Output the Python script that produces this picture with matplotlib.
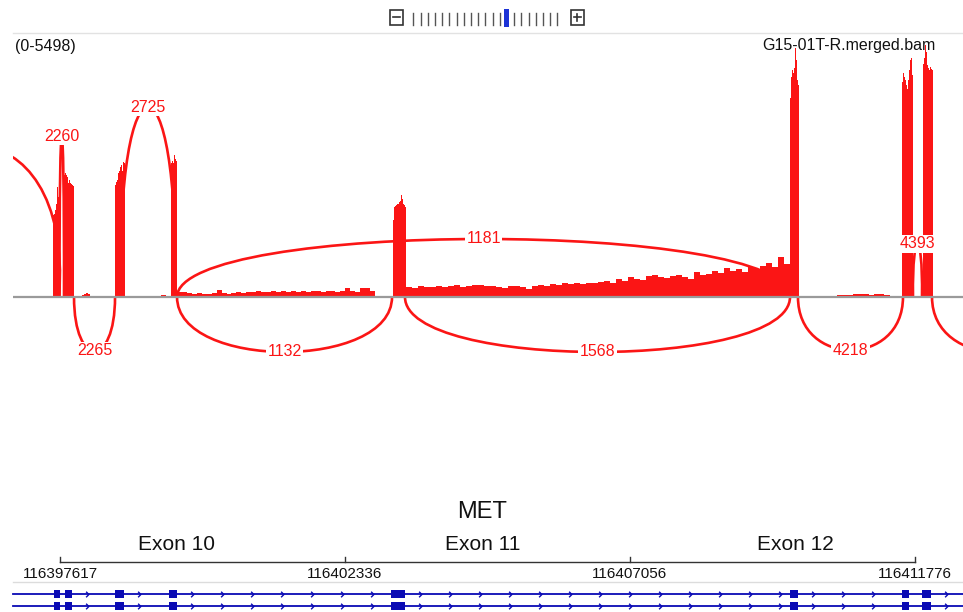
import numpy as np
import matplotlib
matplotlib.use("Agg")
import matplotlib.pyplot as plt
from matplotlib.path import Path
from matplotlib.patches import PathPatch, Rectangle

plt.rcParams['font.family'] = ['Liberation Sans', 'DejaVu Sans']

# ---- values ----
view_start, view_end = 116396623, 116412571
data_range = 5498
track_name = "G15-01T-R.merged.bam"
gene_name = "MET"
gene_pos = 116404605
ruler_ticks = [116397617, 116402336, 116407056, 116411776]
exon_labels = ["Exon 10", "Exon 11", "Exon 12"]
exon_label_pos = [116399538, 116404622, 116409789]

# coverage blocks (genomic start/end) and binned depth inside each block
cov_start = [116397501, 116397683, 116397849, 116398528, 116398727, 116399455, 116399555,
             116403132, 116403347, 116409706, 116410484, 116411561, 116411909]
cov_end = [116397609, 116397849, 116398147, 116398693, 116399439, 116399555, 116402834,
           116403347, 116409706, 116409855, 116411445, 116411743, 116412074]
cov_depth = [
    [1750, 1780, 1860, 1990, 2350, 2140],
    [2610, 2650, 2600, 2560, 2440, 2500, 2440, 2420, 2400, 2380],
    [20, 30, 25, 20, 40, 60, 90, 70, 20],
    [2400, 2460, 2500, 2650, 2700, 2780, 2820, 2700, 2890, 2860],
    [15, 30, 10, 0, 30, 25, 10, 20, 35, 30],
    [2860, 2900, 2870, 3040, 2950, 2900],
    [100, 110, 80, 70, 75, 60, 70, 90, 160, 90,
     60, 80, 100, 90, 110, 100, 120, 110, 100, 120,
     110, 130, 110, 120, 100, 120, 110, 130, 120, 110,
     130, 120, 110, 120, 200, 130, 110, 190, 200, 120],
    [1640, 1930, 1950, 1970, 2000, 1990, 2030, 2060, 2180, 2100, 1990, 1970, 1930],
    [220, 200, 230, 210, 220, 240, 210, 230, 250, 220,
     240, 260, 250, 230, 240, 210, 200, 230, 240, 220,
     180, 230, 250, 240, 270, 260, 290, 270, 300, 280,
     310, 290, 320, 340, 300, 380, 350, 420, 390, 360,
     440, 470, 430, 400, 450, 480, 420, 390, 530, 470,
     500, 560, 520, 610, 560, 590, 540, 650, 600, 660,
     720, 640, 860, 700],
    [4260, 4700, 4860, 4800, 4900, 5330, 5070, 4640, 4540],
    [40, 50, 40, 60, 70, 60, 50, 60, 70, 40, 30],
    [4600, 4800, 4700, 4650, 4530, 4440, 4650, 4860, 5070, 5110, 4750],
    [4990, 5110, 5390, 5250, 4970, 4900, 4860, 4920, 4880, 4850],
]

# splice junctions: start, end, read count; arcs above / below by sign of arc_peak
junc_start = [116394967, 116397609, 116398627, 116399555, 116411743,
              116397849, 116399555, 116403330, 116409838, 116412058]
junc_end = [116397600, 116397683, 116399521, 116409706, 116411892,
            116398528, 116403115, 116409706, 116411577, 116414177]
junc_count = [None, 2260, 2725, 1181, 4393, 2265, 1132, 1568, 4218, None]
arc_peak = [3209, 3444, 4064, 1241, 1134, -1155, -1176, -1176, -1134, -1176]

# transcript exons (both isoforms look the same here)
tx_exon_start = [116397518, 116397700, 116398528, 116399422, 116403098, 116409706, 116411561, 116411892]
tx_exon_end = [116397609, 116397816, 116398677, 116399555, 116403330, 116409838, 116411677, 116412041]

W, H = 963, 612
red = '#fb1515'
blue = '#0a0ab4'
bp_px = (view_end - view_start) / W
track_left = view_start + 13 * bp_px
arc_k = 0.1   # short upper arcs: control points pushed outward -> boxier, like IGV


def fy(y):
    return 1 - y / H


fig = plt.figure(figsize=(W / 100, H / 100), dpi=100)
fig.patch.set_facecolor('white')

# ---- top zoom widget ----
ax_t = fig.add_axes([0, fy(40), 1, 40 / H])
ax_t.set_xlim(0, W)
ax_t.set_ylim(40, 0)
ax_t.axis('off')
ax_t.plot([13, W], [33, 33], color='#e2e2e2', lw=1)
ax_t.add_patch(Rectangle((389.5, 10), 13, 14.5, fill=False, ec='#333333', lw=1.2))
ax_t.plot([392.5, 399.5], [17.3, 17.3], color='#333333', lw=1.2)
ax_t.add_patch(Rectangle((570.5, 10), 13, 14.5, fill=False, ec='#333333', lw=1.2))
ax_t.plot([573.5, 580.5], [17.3, 17.3], color='#333333', lw=1.2)
ax_t.plot([577, 577], [13.8, 20.8], color='#333333', lw=1.2)
for i, tx in enumerate(np.linspace(413.3, 557.3, 21)):
    if i == 13:
        ax_t.add_patch(Rectangle((tx - 2.5, 9), 5, 18, color='#1c33d6', lw=0))
    else:
        ax_t.plot([tx, tx], [13, 25], color='#555555', lw=1)

# ---- coverage + junction track ----
ax = fig.add_axes([13 / W, fy(400), (W - 13) / W, 360 / H])
ax.set_xlim(track_left, view_end)
ax.set_ylim(-103 * data_range / 257, data_range)
ax.axis('off')

for s, e, d in zip(cov_start, cov_end, cov_depth):
    edges = np.linspace(s, e, len(d) + 1)
    ax.stairs(d, edges, fill=True, color=red, lw=0, zorder=3)

ax.plot([track_left, view_end], [0, 0], color='#9a9a9a', lw=1.6, zorder=4)

for s, e, n, pk in zip(junc_start, junc_end, junc_count, arc_peak):
    h = pk / 0.75
    off = arc_k * (e - s) if (pk > 0 and e - s < 3000) else 0
    p = Path([(s, 0), (s - off, h), (e + off, h), (e, 0)],
             [Path.MOVETO, Path.CURVE4, Path.CURVE4, Path.CURVE4])
    ax.add_patch(PathPatch(p, fill=False, ec=red, lw=1.9, zorder=2))
    if n is not None:
        ax.text((s + e) / 2, pk, str(n), ha='center', va='center', color=red,
                fontsize=11.5, zorder=6,
                bbox=dict(boxstyle='square,pad=0.08', fc='white', ec='none'))

ax.text(15 / W, fy(46.5), "(0-%d)" % data_range, transform=fig.transFigure,
        ha='left', va='center', fontsize=11.5, color='#111111', zorder=1)
ax.text(935 / W, fy(45.5), track_name, transform=fig.transFigure,
        ha='right', va='center', fontsize=11.5, color='#111111', zorder=1)

# ---- gene / ruler track ----
ax_g = fig.add_axes([0, 0, 1, 132 / H])
ax_g.set_xlim(view_start, view_end)
ax_g.set_ylim(612, 480)
ax_g.axis('off')

ax_g.text(gene_pos, 512, gene_name, ha='center', va='center', fontsize=17, color='#111111')
for lab, xp in zip(exon_labels, exon_label_pos):
    ax_g.text(xp, 545, lab, ha='center', va='center', fontsize=15, color='#111111')

ax_g.plot([ruler_ticks[0], ruler_ticks[-1]], [562, 562], color='#333333', lw=1)
for t in ruler_ticks:
    ax_g.plot([t, t], [562, 557], color='#333333', lw=1)
    ax_g.text(t, 574, str(t), ha='center', va='center', fontsize=11, color='#111111')

ax_g.plot([track_left, view_end], [582, 582], color='#dcdcdc', lw=1)

chev = Path([(-0.5, -1), (0.5, 0), (-0.5, 1)], [Path.MOVETO, Path.LINETO, Path.LINETO])
chev_x = []
for a, b in zip(tx_exon_end, tx_exon_start[1:] + [view_end]):
    cx = a + 15 * bp_px
    while cx < b - 6 * bp_px:
        chev_x.append(cx)
        cx += 30 * bp_px

for row in [594, 606]:
    ax_g.plot([track_left, view_end], [row, row], color=blue, lw=1.3)
    for s, e in zip(tx_exon_start, tx_exon_end):
        ax_g.add_patch(Rectangle((s, row - 4), e - s, 8, color=blue, lw=0))
    ax_g.plot(chev_x, [row] * len(chev_x), ls='none', marker=chev, ms=4,
              mfc='none', mec=blue, mew=1)

fig.savefig('out.png', dpi=100, facecolor='white')
